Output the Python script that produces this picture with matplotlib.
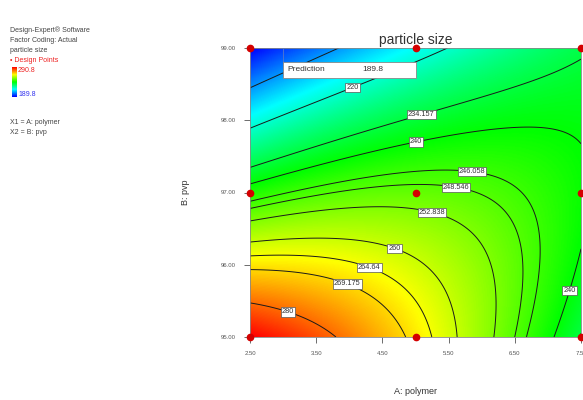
import numpy as np
import matplotlib
matplotlib.use('Agg')
import matplotlib.pyplot as plt
from matplotlib.colors import LinearSegmentedColormap
from matplotlib.patches import Rectangle

plt.rcParams['font.family'] = ['Liberation Sans', 'DejaVu Sans']

# design points (3x3 factorial) and particle size
polymer_levels = [2.5, 5.0, 7.5]
pvp_levels = [95.0, 97.0, 99.0]
size_pvp95 = [290.8, 267.5, 233.8]
size_pvp97 = [243.0, 250.0, 241.0]
size_pvp99 = [189.8, 216.0, 233.0]

contour_levels = [205, 220, 234.157, 240, 246.058, 248.546, 252.838,
                  260, 264.64, 269.175, 280]
x_ticks = [2.5, 3.5, 4.5, 5.5, 6.5, 7.5]
y_ticks = [95, 96, 97, 98, 99]
size_min, size_max = 189.8, 290.8

# fit a response surface (coded units) to the design points
A, B = np.meshgrid(polymer_levels, pvp_levels)
Z = np.array([size_pvp95, size_pvp97, size_pvp99])


def coded(a, b):
    return (a - 5.0) / 2.5, (b - 97.0) / 2.0


def terms(a, b):
    s, t = coded(a, b)
    return np.stack([np.ones_like(s), s, t, s * t, s**2, t**2,
                     s**2 * t, s * t**2, s**2 * t**2], axis=-1)


coef, *_ = np.linalg.lstsq(terms(A.ravel(), B.ravel()), Z.ravel(), rcond=None)

xg = np.linspace(2.5, 7.5, 300)
yg = np.linspace(95, 99, 300)
XG, YG = np.meshgrid(xg, yg)
ZG = terms(XG, YG) @ coef

cmap = LinearSegmentedColormap.from_list(
    'de', ['#0000ff', '#00ffff', '#00ff00', '#ffff00', '#ff0000'])

fig = plt.figure(figsize=(5.83, 4.0), dpi=100)
ax = fig.add_axes([250 / 583, 1 - 337 / 400, 331 / 583, 289 / 400])

ax.imshow(ZG, origin='lower', extent=[2.5, 7.5, 95, 99], aspect='auto',
          cmap=cmap, vmin=size_min, vmax=size_max, interpolation='bilinear')
cs = ax.contour(XG, YG, ZG, levels=contour_levels, colors='#1a1a1a',
                linewidths=0.7)
label_pos = [(3.15, 98.78), (4.06, 98.43), (5.08, 98.1), (5.0, 97.73),
             (5.86, 97.34), (5.62, 97.12), (5.26, 96.77), (4.7, 96.27),
             (4.32, 96.01), (3.98, 95.76), (3.06, 95.3), (7.29, 95.66)]
labels = ax.clabel(cs, fmt='%g', fontsize=5.3, inline=False, manual=label_pos,
                   colors='#333333')
for t in labels:
    t.set_rotation(0)
    t.set_bbox(dict(boxstyle='square,pad=0.15', fc='white', ec='#555555',
                    lw=0.5))

# design points
for b in pvp_levels:
    ax.plot(polymer_levels, [b] * len(polymer_levels), 'o', color='#d40000',
            ms=4.5, clip_on=False, zorder=5)

# prediction flag
ax.plot([3.0, 3.0], [98.81, 99], color='#5577cc', lw=0.6, zorder=6)
ax.add_patch(Rectangle((0.0997, 0.896), 0.402, 0.0556,
                       transform=ax.transAxes, fc='white', ec='#888888',
                       lw=0.6, zorder=7))
ax.text(0.112, 0.924, 'Prediction', transform=ax.transAxes, fontsize=6,
        color='#333333', va='center', zorder=8)
ax.text(0.34, 0.924, '189.8', transform=ax.transAxes, fontsize=6,
        color='#333333', va='center', zorder=8)

ax.set_xlim(2.5, 7.5)
ax.set_ylim(95, 99)
ax.set_xticks(x_ticks)
ax.set_xticklabels(['%.2f' % v for v in x_ticks])
ax.set_yticks(y_ticks)
ax.set_yticklabels(['%.2f' % v for v in y_ticks])
ax.tick_params(labelsize=4.3, colors='#555555', length=4, width=0.6, pad=6)
for sp in ax.spines.values():
    sp.set_color('#888888')
    sp.set_linewidth(0.6)

ax.set_title('particle size', fontsize=10, color='#333333', pad=3)
ax.set_xlabel('A: polymer', fontsize=6.5, color='#333333')
ax.set_ylabel('B: pvp', fontsize=6.5, color='#333333')
ax.xaxis.set_label_coords(0.5, -0.172)
ax.yaxis.set_label_coords(-0.18, 0.5)

# Design-Expert side legend
fs = 5
fig.text(10 / 583, 1 - 30 / 400, 'Design-Expert® Software', fontsize=fs,
         color='#444444', va='center')
fig.text(10 / 583, 1 - 40 / 400, 'Factor Coding: Actual', fontsize=fs,
         color='#444444', va='center')
fig.text(10 / 583, 1 - 50 / 400, 'particle size', fontsize=fs,
         color='#444444', va='center')
fig.text(10 / 583, 1 - 60 / 400, '\u2022 Design Points', fontsize=fs,
         color='#ee2222', va='center')
cax = fig.add_axes([12 / 583, 1 - 97 / 400, 5 / 583, 30 / 400])
cax.imshow(np.linspace(size_min, size_max, 100)[:, None], origin='lower',
           aspect='auto', cmap=cmap)
cax.axis('off')
fig.text(18 / 583, 1 - 70 / 400, '%.1f' % size_max, fontsize=fs,
         color='#ee2222', va='center')
fig.text(18 / 583, 1 - 94 / 400, '%.1f' % size_min, fontsize=fs,
         color='#3333ee', va='center')
fig.text(10 / 583, 1 - 123 / 400, 'X1 = A: polymer', fontsize=fs,
         color='#444444', va='center')
fig.text(10 / 583, 1 - 133 / 400, 'X2 = B: pvp', fontsize=fs,
         color='#444444', va='center')

fig.savefig('out.png', dpi=100)
